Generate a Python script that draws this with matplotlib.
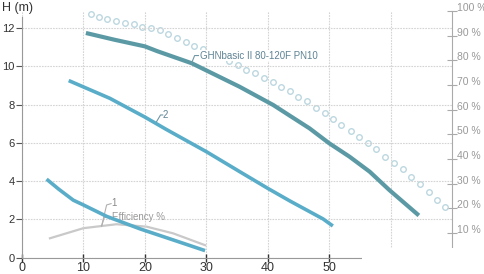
import matplotlib
matplotlib.use('Agg')
import matplotlib.pyplot as plt
from matplotlib.patches import Rectangle

plt.rcParams['font.family'] = ['Liberation Sans', 'DejaVu Sans']

# Pump curves, head H (m) against flow
main_x = [10.4, 15, 20, 22, 27.6, 35.4, 40.9, 43.6, 46.8, 50, 53.3, 56.6, 59.8, 64.6]
main_y = [11.75, 11.4, 11.05, 10.8, 10.17, 8.94, 7.98, 7.42, 6.76, 5.98, 5.28, 4.49, 3.53, 2.2]

c2_x = [7.6, 14.3, 20, 23.5, 30, 35.4, 40, 43.6, 49, 50.6]
c2_y = [9.26, 8.33, 7.35, 6.7, 5.54, 4.5, 3.62, 2.96, 2.02, 1.65]

c1_x = [4.0, 6, 8.35, 10, 13.8, 19.2, 24.6, 29.8]
c1_y = [4.1, 3.57, 3.0, 2.75, 2.15, 1.5, 0.92, 0.36]

# Efficiency (%), right axis
eff_x = [4.55, 10, 15.4, 20.3, 24.6, 29.8]
eff_y = [7.8, 11.9, 13.5, 12.5, 9.8, 5.0]

# circle series (%), right axis
dot_x = [11.2, 12.6, 13.9, 15.3, 16.8, 18.3, 19.6, 21.0, 22.4, 23.8, 25.3, 26.7,
         28.0, 29.4, 30.7, 32.2, 33.7, 35.2, 36.5, 37.9, 39.4, 40.8, 42.2, 43.6,
         45.0, 46.4, 47.8, 49.3, 50.6, 52.0, 53.5, 54.8, 56.3, 57.7, 59.1, 60.5,
         62.0, 63.3, 64.8, 66.2, 67.5, 68.9]
dot_y = [98.7, 97.6, 96.8, 96.1, 95.3, 94.7, 93.6, 93.0, 92.2, 90.6, 89.2, 87.4,
         85.7, 84.5, 83.0, 81.4, 79.8, 78.1, 76.1, 74.7, 72.7, 71.1, 69.3, 67.6,
         65.3, 63.3, 60.8, 58.8, 56.2, 53.8, 51.3, 48.8, 46.4, 43.9, 40.9, 38.4,
         35.9, 32.8, 29.7, 26.6, 23.3, 20.4]

x_ticks = [0, 10, 20, 30, 40, 50, 60]
h_ticks = [0, 2, 4, 6, 8, 10, 12]
pct_ticks = [10, 20, 30, 40, 50, 60, 70, 80, 90, 100]

fig = plt.figure(figsize=(4.85, 2.74), dpi=100)
ax = fig.add_axes([0.0454, 0.0602, 0.8866, 0.8996])
ax.set_xlim(0, 70)
ax.set_ylim(0, 12.9)

ax2 = ax.twinx()
ax2.set_ylim(0, 100)

# grid
ax.set_xticks(x_ticks)
ax.set_yticks(h_ticks)
ax.grid(True, color='#d4d4d4', lw=0.8, ls=(0, (1.5, 1)))
ax.set_axisbelow(True)

# spines
for s in ['top', 'right']:
    ax.spines[s].set_visible(False)
for s in ['top', 'left', 'bottom']:
    ax2.spines[s].set_visible(False)
ax.spines['left'].set_color('#999999')
ax.spines['left'].set_bounds(0, 12.6)
ax.spines['bottom'].set_color('#999999')
ax2.spines['right'].set_color('#aaaaaa')

ax.tick_params(axis='y', length=4, width=0.8, color='#555555', pad=1.5,
               labelsize=8, labelcolor='#333333')
ax.tick_params(axis='x', direction='inout', length=6, width=1, color='#333333',
               pad=0.5, labelsize=9, labelcolor='#333333')
ax2.set_yticks(pct_ticks)
ax2.set_yticklabels([f'{v} %' for v in pct_ticks])
ax2.tick_params(axis='y', direction='inout', length=7, width=0.8, color='#aaaaaa',
                pad=0.3, labelsize=7.5, labelcolor='#999999')
for t in ax2.get_yticklabels():
    t.set_va('baseline')

# curves
ax2.plot(eff_x, eff_y, color='#c9c9c9', lw=1.6, zorder=2)
ax2.plot(dot_x, dot_y, ls='none', marker='o', ms=4, mfc='none',
         mec='#bcd7df', mew=1.0, zorder=2)
ax.plot(c1_x, c1_y, color='#5aadc8', lw=2.6, solid_capstyle='butt', zorder=4)
ax.plot(c2_x, c2_y, color='#5aadc8', lw=2.6, solid_capstyle='butt', zorder=4)
ax.plot(main_x, main_y, color='#5b9aa5', lw=3.0, solid_capstyle='butt', zorder=4)
ax.patch.set_visible(False)
ax.set_zorder(ax2.get_zorder() + 1)

# labels with leader lines
ax.plot([27.6, 28.1, 28.8], [10.17, 10.57, 10.57], color='#6f97a5', lw=0.8, zorder=5)
ax.text(28.9, 10.57, 'GHNbasic II 80-120F PN10', fontsize=7, color='#5f8393',
        va='center', ha='left', zorder=5,
        bbox=dict(facecolor='white', edgecolor='none', pad=0.5))
ax.plot([21.9, 22.55, 22.9], [7.11, 7.46, 7.46], color='#6f97a5', lw=0.8, zorder=5)
ax.text(22.95, 7.46, '2', fontsize=7, color='#5f8393', va='center', ha='left', zorder=5)
ax.plot([12.96, 13.77, 14.5], [1.65, 2.75, 2.82], color='#b0b0b0', lw=0.8, zorder=3)
ax.text(14.6, 2.84, '1', fontsize=7, color='#888888', va='center', ha='left', zorder=3)
ax.plot([12.96, 13.4, 14.4], [1.65, 2.1, 2.14], color='#b0b0b0', lw=0.8, zorder=3)
ax.text(14.6, 2.14, 'Efficiency %', fontsize=7, color='#999999', va='center',
        ha='left', zorder=3)

fig.text(2 / 485, 1 - 8 / 274, 'H (m)', fontsize=9, color='#333333',
         va='center', ha='left')

# white block over the bottom right corner
fig.patches.append(Rectangle((362 / 485, 0), 115 / 485, 26 / 274,
                             transform=fig.transFigure, facecolor='white',
                             edgecolor='none', zorder=10))

fig.savefig('out.png', dpi=100)
